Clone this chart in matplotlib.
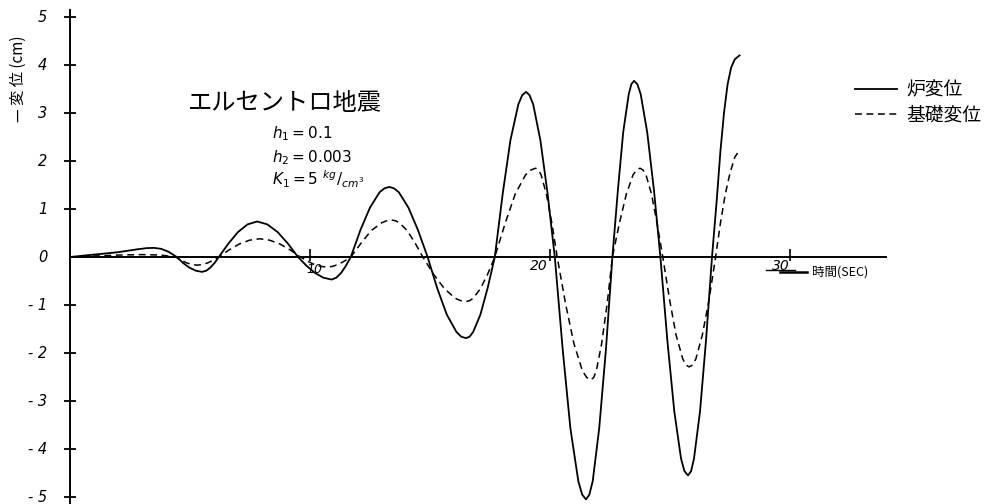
import matplotlib.pyplot as plt

# 時刻 (sec) と変位 (cm) : 炉変位
t_ro = [0, 1, 2, 2.8, 3.2, 3.5, 3.8, 4.1, 4.45,
        4.7, 4.97, 5.24, 5.5, 5.68, 5.85, 6.03, 6.2,
        6.6, 7.0, 7.4, 7.8, 8.22, 8.65, 9.08, 9.5,
        9.85, 10.2, 10.55, 10.9, 11.1, 11.3, 11.5, 11.7,
        12.1, 12.5, 12.9, 13.1, 13.3, 13.5, 13.7, 14.1, 14.5, 14.9,
        15.3, 15.7, 16.1, 16.3, 16.5, 16.65, 16.8, 17.1, 17.4, 17.7,
        18.03, 18.35, 18.68, 18.84, 19.0, 19.15, 19.3, 19.6, 19.9, 20.2,
        20.53, 20.85, 21.18, 21.34, 21.5, 21.64, 21.78, 22.05, 22.33, 22.6,
        22.83, 23.05, 23.28, 23.39, 23.5, 23.64, 23.78, 24.05, 24.33, 24.6,
        24.89, 25.18, 25.46, 25.6, 25.75, 25.88, 26.0, 26.25, 26.5, 26.75,
        26.95, 27.1, 27.25, 27.4, 27.55, 27.7, 27.9]
d_ro = [0, 0.05, 0.1, 0.16, 0.185, 0.19, 0.17, 0.11, 0,
        -0.12, -0.22, -0.285, -0.31, -0.285, -0.22, -0.12, 0,
        0.28, 0.52, 0.68, 0.74, 0.68, 0.52, 0.28, 0,
        -0.18, -0.33, -0.43, -0.47, -0.43, -0.33, -0.18, 0,
        0.56, 1.03, 1.35, 1.43, 1.46, 1.43, 1.35, 1.03, 0.56, 0,
        -0.65, -1.2, -1.56, -1.66, -1.69, -1.66, -1.56, -1.2, -0.65, 0,
        1.32, 2.43, 3.18, 3.37, 3.44, 3.37, 3.18, 2.43, 1.32, 0,
        -1.93, -3.57, -4.67, -4.95, -5.05, -4.95, -4.67, -3.57, -1.93, 0,
        1.4, 2.6, 3.39, 3.6, 3.67, 3.6, 3.39, 2.6, 1.4, 0,
        -1.74, -3.22, -4.2, -4.46, -4.55, -4.46, -4.2, -3.22, -1.74, 0,
        1.2, 2.2, 3.0, 3.6, 3.95, 4.12, 4.2]

# 基礎変位
t_ki = [0, 1, 2, 3, 3.8, 4.4,
        4.62, 4.85, 5.08, 5.3, 5.53, 5.75, 5.98, 6.2,
        6.62, 7.05, 7.48, 7.9, 8.32, 8.75, 9.18, 9.6,
        9.88, 10.15, 10.43, 10.7, 10.95, 11.2, 11.45, 11.7,
        12.13, 12.55, 12.98, 13.19, 13.4, 13.57, 13.73, 14.05, 14.38, 14.7,
        15.15, 15.6, 16.05, 16.28, 16.5, 16.65, 16.8, 17.1, 17.4, 17.7,
        18.13, 18.55, 18.98, 19.19, 19.4, 19.52, 19.63, 19.85, 20.08, 20.3,
        20.65, 21.0, 21.35, 21.53, 21.7, 21.82, 21.93, 22.15, 22.38, 22.6,
        22.89, 23.18, 23.46, 23.6, 23.75, 23.88, 24.0, 24.23, 24.46, 24.7,
        24.98, 25.25, 25.53, 25.66, 25.8, 25.94, 26.08, 26.35, 26.63, 26.9,
        27.1, 27.3, 27.5, 27.7, 27.9]
d_ki = [0, 0.02, 0.04, 0.05, 0.04, 0,
        -0.065, -0.12, -0.157, -0.17, -0.157, -0.12, -0.065, 0,
        0.145, 0.27, 0.35, 0.38, 0.35, 0.27, 0.145, 0,
        -0.08, -0.15, -0.194, -0.21, -0.194, -0.15, -0.08, 0,
        0.29, 0.55, 0.71, 0.755, 0.77, 0.755, 0.71, 0.55, 0.29, 0,
        -0.36, -0.66, -0.86, -0.91, -0.93, -0.91, -0.86, -0.66, -0.36, 0,
        0.7, 1.31, 1.71, 1.81, 1.85, 1.81, 1.71, 1.31, 0.7, 0,
        -0.98, -1.81, -2.37, -2.51, -2.56, -2.51, -2.37, -1.81, -0.98, 0,
        0.7, 1.31, 1.71, 1.81, 1.85, 1.81, 1.71, 1.31, 0.7, 0,
        -0.88, -1.62, -2.12, -2.25, -2.29, -2.25, -2.12, -1.62, -0.88, 0,
        0.7, 1.3, 1.75, 2.08, 2.23]

y_ticks = [5, 4, 3, 2, 1, 0, -1, -2, -3, -4, -5]
y_labels = ['5', '4', '3', '2', '1', '0', '- 1', '- 2', '- 3', '- 4', '- 5']
x_ticks = [10, 20, 30]

jp = ['Noto Sans CJK JP', 'DejaVu Sans']

fig = plt.figure(figsize=(10.04, 5.04), dpi=100)
ax = fig.add_axes([0, 0, 1, 1])
ax.set_xlim(-70 / 24, 934 / 24)
ax.set_ylim(-247 / 48, 257 / 48)
ax.axis('off')

# 軸線
ax.plot([0, 0], [5.15, -5.2], color='black', lw=1.4)
ax.plot([0, 34], [0, 0], color='black', lw=1.4)

# 目盛
for v, lab in zip(y_ticks, y_labels):
    if v != 0:
        ax.plot(0, v, marker='_', ms=9, mew=1.3, color='black')
    ax.text(-0.95, v, lab, ha='right', va='center', fontsize=10.5,
            style='italic', family='DejaVu Sans')
for v in x_ticks:
    ax.plot(v, 0.04, marker='|', ms=9, mew=1.2, color='black')
ax.text(9.85, -0.12, '10', ha='left', va='top', fontsize=9, style='italic')
ax.text(19.9, -0.05, '20', ha='right', va='top', fontsize=10, style='italic')
ax.text(29.6, -0.05, '30', ha='center', va='top', fontsize=10, style='italic')
ax.plot([29.0, 30.2], [-0.27, -0.27], color='black', lw=1.0)
ax.plot([29.6, 30.7], [-0.31, -0.31], color='black', lw=1.8)
ax.text(30.9, -0.31, '時間(SEC)', ha='left', va='center', fontsize=9,
        style='italic', family=jp)

# 変位曲線
ax.plot(t_ro, d_ro, color='black', lw=1.3, solid_joinstyle='round',
        label='炉変位')
ax.plot(t_ki, d_ki, color='black', lw=1.1, dashes=(4.5, 3),
        dash_joinstyle='round', label='基礎変位')

ax.legend(loc='upper left', bbox_to_anchor=(0.852, 0.842), frameon=False,
          prop={'family': jp, 'size': 13.5},
          handlelength=2.2, handletextpad=0.5, labelspacing=0.2,
          borderpad=0, borderaxespad=0)

# 縦軸ラベル
ax.text(-2.17, 3.72, '— 変 位 (cm)', rotation=90, ha='center', va='center',
        fontsize=11, style='italic', family=jp)

# 表題と条件
ax.text(8.95, 3.21, 'エルセントロ地震', ha='center', va='center', fontsize=17.5,
        family=jp)
ax.text(8.4, 2.58, r'$h_1 = 0.1$', ha='left', va='center', fontsize=11,
        family='DejaVu Sans')
ax.text(8.4, 2.08, r'$h_2 = 0.003$', ha='left', va='center', fontsize=11,
        family='DejaVu Sans')
ax.text(8.4, 1.62, r'$K_1 = 5\ ^{kg}/_{cm^3}$', ha='left', va='center',
        fontsize=11, family='DejaVu Sans')

fig.savefig('out.png', dpi=100)
